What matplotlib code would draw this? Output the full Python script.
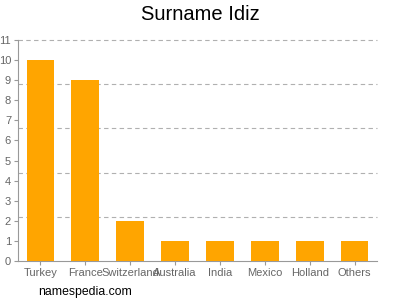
import matplotlib
matplotlib.use("Agg")
import matplotlib.pyplot as plt

categories = ["Turkey", "France", "Switzerland", "Australia", "India", "Mexico", "Holland", "Others"]
values = [10, 9, 2, 1, 1, 1, 1, 1]
yticks = list(range(0, 12))
grid_vals = [2.2, 4.4, 6.6, 8.8, 11]

plt.rcParams['font.family'] = ['Liberation Sans', 'DejaVu Sans']

fig = plt.figure(figsize=(4, 3), dpi=100)
ax = fig.add_axes([0.045, 0.13, 0.8975, 0.7367])

x = list(range(len(categories)))
ax.bar(x, values, width=0.62, color="#FFA500", zorder=3)
ax.set_xlim(-0.5, len(categories) - 0.5)
ax.set_ylim(0, 11)
ax.set_yticks(yticks)
ax.set_yticklabels([str(v) for v in yticks])
for g in grid_vals:
    ax.axhline(g, color='#b0b0b0', linestyle=(0, (4, 3)), linewidth=0.8, zorder=0, clip_on=False)
ax.set_xticks(x)
ax.set_xticklabels(categories)
ax.tick_params(axis='both', which='major', colors='#999999', labelcolor='#666666', labelsize=8, length=3, width=0.8, pad=2)

for s in ['top', 'right']:
    ax.spines[s].set_visible(False)
for s in ['left', 'bottom']:
    ax.spines[s].set_color('#999999')
    ax.spines[s].set_linewidth(0.8)

fig.text(0.5, 0.95, "Surname Idiz", ha='center', va='center', fontsize=14.5, color='black')
fig.text(0.095, 0.028, "namespedia.com", ha='left', va='center', fontsize=8.8, color='black')

fig.savefig("out.png", dpi=100)
